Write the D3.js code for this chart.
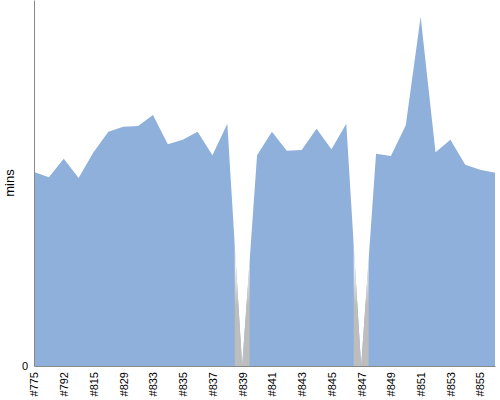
<!DOCTYPE html>
<html>
<head>
<meta charset="utf-8">
<script src="https://cdn.jsdelivr.net/npm/d3@7"></script>
<style>
  body { margin: 0; background: #fff; }
  text { font-family: "Liberation Sans", Arial, sans-serif; }
</style>
</head>
<body>
<script>
var builds = ["#775", "#781", "#792", "#803", "#815", "#822", "#829", "#831",
  "#833", "#834", "#835", "#836", "#837", "#838", "#839", "#840",
  "#841", "#842", "#843", "#844", "#845", "#846", "#847", "#848",
  "#849", "#850", "#851", "#852", "#853", "#854", "#855", "#856"];

var mins = [26.5, 25.8, 28.3, 25.7, 29.2, 32.0, 32.7, 32.8,
  34.3, 30.3, 30.9, 32.0, 28.8, 33.1, 0, 28.8,
  32.0, 29.4, 29.5, 32.4, 29.6, 33.1, 0, 29.0,
  28.7, 32.9, 47.7, 29.2, 30.9, 27.5, 26.8, 26.4];

// every other build gets a label
var tickLabels = builds.filter(function(d, i) { return i % 2 == 0; });

var width = 500,
    height = 400,
    margin = {top: 0, right: 5, bottom: 34, left: 34};

var data = builds.map(function(b, i) { return {build: b, mins: mins[i]}; });

var x = d3.scalePoint()
    .domain(builds)
    .range([margin.left, width - margin.right]);

var y = d3.scaleLinear()
    .domain([0, 50])
    .range([height - margin.bottom, margin.top]);

var step = x.step();

var svg = d3.select("body").append("svg")
    .attr("width", width)
    .attr("height", height);

var defs = svg.append("defs");

// gradient used where a build has no time
var grad = defs.append("linearGradient")
    .attr("id", "zeroGrad")
    .attr("gradientUnits", "userSpaceOnUse")
    .attr("x1", 0).attr("x2", 0)
    .attr("y1", 255).attr("y2", 305);
grad.append("stop").attr("offset", 0).attr("stop-color", "#ffffff");
grad.append("stop").attr("offset", 1).attr("stop-color", "#bdbdbd");

var clip = defs.append("clipPath").attr("id", "zeroClip");
clip.selectAll("rect")
    .data(data.filter(function(d) { return d.mins == 0; }))
  .enter().append("rect")
    .attr("x", function(d) { return x(d.build) - step / 2; })
    .attr("width", step)
    .attr("y", 0)
    .attr("height", y(0));

var area = d3.area()
    .x(function(d) { return x(d.build); })
    .y0(y(0))
    .y1(function(d) { return y(d.mins); });

svg.append("path")
    .datum(data)
    .attr("fill", "#8eb0da")
    .attr("d", area);

svg.append("path")
    .datum(data)
    .attr("fill", "url(#zeroGrad)")
    .attr("clip-path", "url(#zeroClip)")
    .attr("d", area);

// x axis
var xAxis = svg.append("g")
    .attr("transform", "translate(0," + y(0) + ")")
    .call(d3.axisBottom(x).tickValues(tickLabels).tickSize(0));
xAxis.select(".domain").attr("stroke", "#888");
xAxis.selectAll("text")
    .attr("transform", "rotate(-90)")
    .attr("text-anchor", "end")
    .attr("x", -6)
    .attr("y", 0)
    .attr("dy", "0.35em")
    .style("font-size", "11px")
    .attr("fill", "#000");

// y axis
var yAxis = svg.append("g")
    .attr("transform", "translate(" + margin.left + ",0)")
    .call(d3.axisLeft(y).tickValues([0]).tickSize(0).tickPadding(6));
yAxis.select(".domain").attr("stroke", "#888");
yAxis.selectAll("text")
    .style("font-size", "11px")
    .attr("fill", "#000");

svg.append("text")
    .attr("transform", "translate(14," + (y(0) / 2) + ") rotate(-90)")
    .attr("text-anchor", "middle")
    .style("font-size", "13px")
    .text("mins");
</script>
</body>
</html>
